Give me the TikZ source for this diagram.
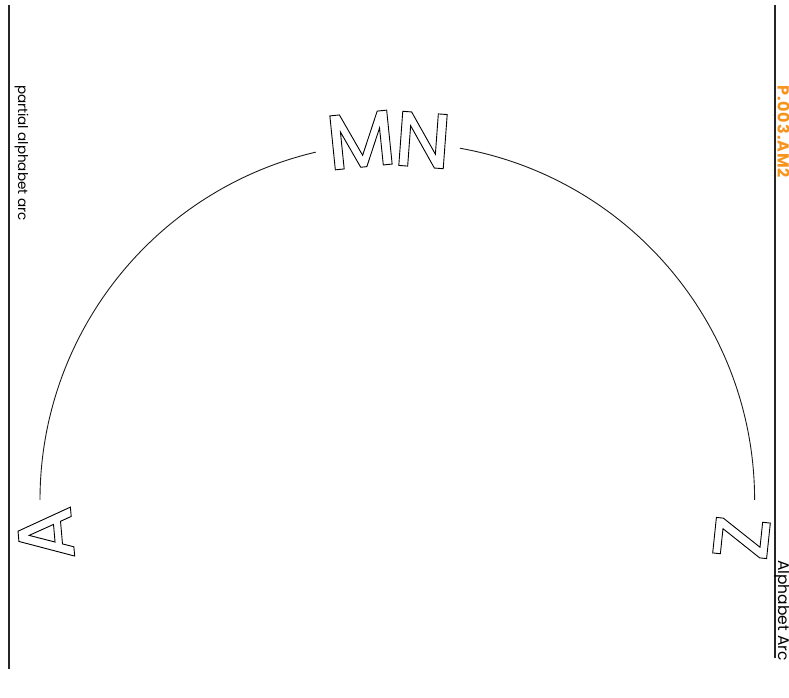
\documentclass[tikz,border=0pt]{standalone}
\usepackage{fontspec}
\setmainfont{Poppins}
\newfontfamily\letterfont{Poppins Medium}
\definecolor{codeorange}{RGB}{247,148,30}
\newcommand{\outlinetext}[1]{\special{pdf:literal direct 1 Tr 0.9 w}#1\special{pdf:literal direct 0 Tr}}
\begin{document}
\begin{tikzpicture}[x=1pt,y=1pt,
  bigletter/.style={inner sep=0pt, anchor=center, font=\letterfont\fontsize{78}{80}\selectfont},
  sidetext/.style={inner sep=0pt, rotate=-90, anchor=base west, font=\fontsize{13.5}{15}\selectfont},
  rule/.style={line width=1.2pt, black!85},
  arcline/.style={line width=0.9pt, black!90}]
\useasboundingbox (0,0) rectangle (789,698);
% frame rules
\coordinate (lt) at (9,693);
\coordinate (lb) at (9,29);
\coordinate (rt) at (775,693);
\coordinate (rb) at (775,40);
\draw[rule] (lt) -- (lb);
\draw[rule] (rt) -- (rb);
% side texts
\node[sidetext] (t1) at (18,613) {partial alphabet arc};
\node[sidetext, text=codeorange, font=\fontsize{16}{18}\selectfont\bfseries\addfontfeature{LetterSpace=6}] (t2) at (777.5,613) {P.003.AM2};
\node[sidetext, font=\fontsize{15.5}{17}\selectfont] (t3) at (778,138) {Alphabet Arc};
% arc
\coordinate (c) at (397.3,198);
\draw[arcline] ([shift={(180:357.3)}]c) arc[start angle=180,end angle=103.2,radius=357.3];
\draw[arcline] ([shift={(79.9:357.3)}]c) arc[start angle=79.9,end angle=0,radius=357.3];
% letters
\node[bigletter, rotate=95] (la) at (45.5,164) {\outlinetext{A}};
\node[bigletter, rotate=5.8] (lm) at (361,558) {\outlinetext{M}};
\node[bigletter, rotate=-4.2] (ln) at (423,558) {\outlinetext{N}};
\node[bigletter, rotate=-96] (lz) at (741.5,160) {\outlinetext{Z}};
\end{tikzpicture}
\end{document}
